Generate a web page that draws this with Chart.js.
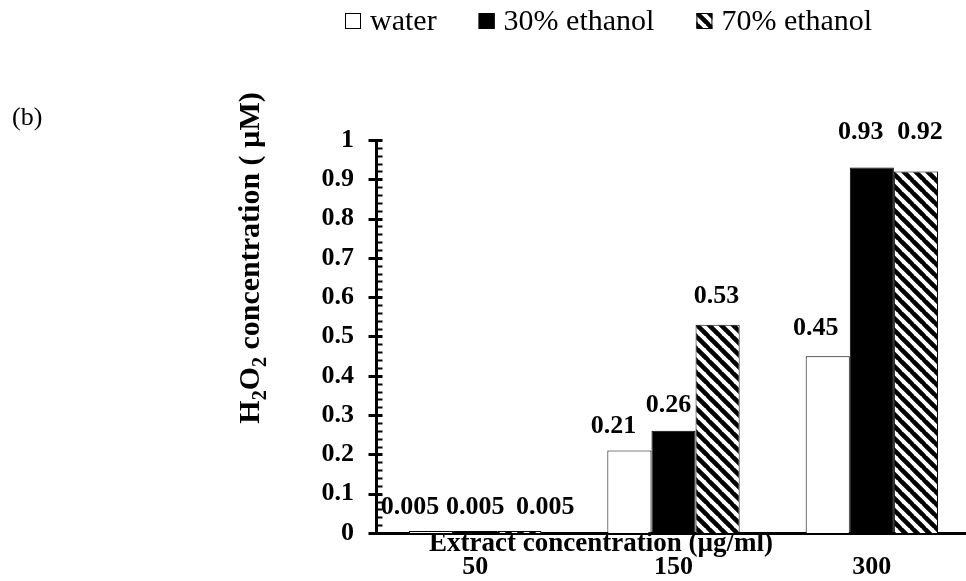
<!DOCTYPE html>
<html>
<head>
<meta charset="utf-8">
<script src="https://cdn.jsdelivr.net/npm/chart.js@4.4.1/dist/chart.umd.min.js"></script>
<style>
  html, body { margin: 0; padding: 0; background: #fff; overflow: hidden; }
  #wrap { position: relative; width: 972px; height: 581px; }
</style>
</head>
<body>
<div id="wrap"><canvas id="chart"></canvas></div>
<script>
// data
const categories = ['50', '150', '300'];
const seriesNames = ['water', '30% ethanol', '70% ethanol'];
const waterValues = [0.005, 0.21, 0.45];
const ethanol30Values = [0.005, 0.26, 0.93];
const ethanol70Values = [0.005, 0.53, 0.92];
const yMin = 0, yMax = 1, yStep = 0.1, yMinorStep = 0.02;

const SERIF = '"Liberation Serif", "Times New Roman", serif';

// diagonal hatch for the 70% series
function makeHatch() {
    const p = 12;
    const c = document.createElement('canvas');
    c.width = p; c.height = p;
    const g = c.getContext('2d');
    g.fillStyle = '#fff';
    g.fillRect(0, 0, p, p);
    g.strokeStyle = '#000';
    g.lineWidth = 4.5;
    g.beginPath();
    for (let k = -1; k <= 1; k++) {
        g.moveTo(k * p - 1, -1);
        g.lineTo(k * p + p + 1, p + 1);
    }
    g.stroke();
    return g.createPattern(c, 'repeat');
}
const hatch = makeHatch();

// Excel nudged the labels sideways so they don't collide: [dx, dy] per dataset / category
const labelNudge = [
    [[-21, 1], [-16, 1], [-12, -3]],
    [[0, 1], [-5, -1], [-11, -10]],
    [[26, 1], [-1, -3], [4, -14]]
];

const extrasPlugin = {
    id: 'extras',
    afterDraw(chart) {
        const ctx = chart.ctx;
        const y = chart.scales.y;
        const area = chart.chartArea;
        const axisX = area.left - 0.5;

        ctx.save();
        // y axis tick marks: major cross the axis, minor inside only
        ctx.strokeStyle = '#000';
        for (let v = yMin; v <= yMax + 1e-9; v += yMinorStep) {
            const py = Math.round(y.getPixelForValue(v)) + 0.5;
            const major = Math.abs(v / yStep - Math.round(v / yStep)) < 1e-6;
            ctx.lineWidth = major ? 3 : 2;
            ctx.beginPath();
            ctx.moveTo(major ? axisX - 7 : axisX, py);
            ctx.lineTo(axisX + 7, py);
            ctx.stroke();
        }

        // value labels above bars
        ctx.fillStyle = '#000';
        ctx.font = 'bold 26px ' + SERIF;
        ctx.textAlign = 'center';
        ctx.textBaseline = 'middle';
        chart.data.datasets.forEach((ds, di) => {
            const meta = chart.getDatasetMeta(di);
            meta.data.forEach((bar, i) => {
                const n = labelNudge[di][i];
                ctx.fillText(String(ds.data[i]), bar.x + n[0], bar.y - 25 + n[1]);
            });
        });

        // x axis title, sitting just under the axis line
        ctx.font = 'bold 27px ' + SERIF;
        ctx.textBaseline = 'alphabetic';
        ctx.fillText('Extract concentration (\u00b5g/ml)', 601, 551);

        // y axis title with subscripts
        ctx.translate(259, 258);
        ctx.rotate(-Math.PI / 2);
        const parts = [['H', false], ['2', true], ['O', false], ['2', true], [' concentration ( \u00b5M)', false]];
        const big = 'bold 30px ' + SERIF, small = 'bold 20px ' + SERIF;
        let total = 0;
        parts.forEach(p => { ctx.font = p[1] ? small : big; total += ctx.measureText(p[0]).width; });
        let x = -total / 2;
        ctx.textAlign = 'left';
        parts.forEach(p => {
            ctx.font = p[1] ? small : big;
            ctx.fillText(p[0], x, p[1] ? 7 : 0);
            x += ctx.measureText(p[0]).width;
        });
        ctx.restore();

        // panel letter
        ctx.save();
        ctx.fillStyle = '#000';
        ctx.font = '26px ' + SERIF;
        ctx.textBaseline = 'middle';
        ctx.fillText('(b)', 12, 118);

        // legend
        ctx.font = '30px ' + SERIF;
        ctx.textBaseline = 'alphabetic';
        let lx = 345;
        chart.data.datasets.forEach(ds => {
            ctx.fillStyle = ds.backgroundColor;
            ctx.fillRect(lx, 13, 16, 16);
            ctx.strokeStyle = '#000';
            ctx.lineWidth = 1;
            ctx.strokeRect(lx + 0.5, 13.5, 15, 15);
            ctx.fillStyle = '#000';
            const tx = lx + 16 + 9;
            ctx.fillText(ds.label, tx, 30);
            lx = tx + ctx.measureText(ds.label).width + 42;
        });
        ctx.restore();
    }
};

new Chart(document.getElementById('chart'), {
    type: 'bar',
    data: {
        labels: categories,
        datasets: [
            { label: seriesNames[0], data: waterValues, backgroundColor: '#fff', borderColor: '#000', borderWidth: 1 },
            { label: seriesNames[1], data: ethanol30Values, backgroundColor: '#000', borderColor: '#000', borderWidth: 1 },
            { label: seriesNames[2], data: ethanol70Values, backgroundColor: hatch, borderColor: '#000', borderWidth: 1 }
        ]
    },
    options: {
        responsive: true,
        maintainAspectRatio: false,
        animation: false,
        layout: { padding: { top: 140, right: 1, left: 0, bottom: 0 } },
        datasets: { bar: { categoryPercentage: 0.667, barPercentage: 1 } },
        plugins: { legend: { display: false }, tooltip: { enabled: false } },
        scales: {
            x: {
                grid: { display: false, drawTicks: false },
                border: { display: true, color: '#000', width: 3 },
                ticks: { color: '#000', font: { family: SERIF, size: 26, weight: 'bold' }, padding: 19 },
                afterFit: s => { s.height = 48; }
            },
            y: {
                min: yMin,
                max: yMax,
                grid: { display: false, drawTicks: false },
                border: { display: true, color: '#000', width: 3 },
                ticks: {
                    stepSize: yStep,
                    color: '#000',
                    padding: 22,
                    font: { family: SERIF, size: 26, weight: 'bold' },
                    callback: v => (Math.round(v * 10) / 10).toString()
                },
                afterFit: s => { s.width = 376; }
            }
        }
    },
    plugins: [extrasPlugin]
});
</script>
</body>
</html>
